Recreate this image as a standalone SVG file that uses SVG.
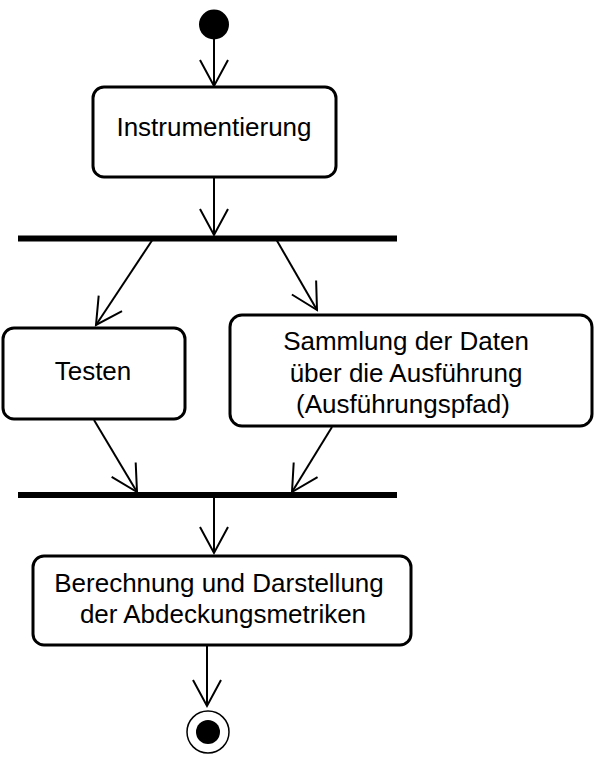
<svg xmlns="http://www.w3.org/2000/svg" width="601" height="762" viewBox="0 0 601 762">
<defs>
<marker id="arr" markerUnits="userSpaceOnUse" markerWidth="40" markerHeight="40" refX="0" refY="0" viewBox="-30 -20 40 40" orient="auto" overflow="visible">
<path d="M-26,-14 L0,0 L-26,14" fill="none" stroke="#000" stroke-width="2"/>
</marker>
</defs>
<style>
.box{fill:#fff;stroke:#000;stroke-width:3}
.bar{stroke:#000;stroke-width:6}
.edge{stroke:#000;stroke-width:2;fill:none;marker-end:url(#arr)}
text{font-family:"Liberation Sans",Arial,sans-serif;font-size:26px;fill:#000;text-anchor:middle}
</style>
<rect width="601" height="762" fill="#fff"/>
<g id="connectors">
<line class="edge" x1="214" y1="39" x2="214" y2="86"/>
<line class="edge" x1="214" y1="178" x2="214" y2="235"/>
<line class="edge" x1="153" y1="239" x2="96" y2="325"/>
<line class="edge" x1="276" y1="239" x2="317" y2="310"/>
<line class="edge" x1="94" y1="420" x2="137" y2="492"/>
<line class="edge" x1="332" y1="427" x2="292" y2="492"/>
<line class="edge" x1="214" y1="498" x2="214" y2="553"/>
<line class="edge" x1="207" y1="645" x2="207" y2="706"/>
</g>
<g id="start"><circle cx="214" cy="24.5" r="15" fill="#000"/></g>
<g id="instrumentierung">
<rect class="box" x="93" y="87" width="243" height="90" rx="11"/>
<text x="214" y="136">Instrumentierung</text>
</g>
<g id="fork"><line class="bar" x1="18" y1="238.5" x2="397" y2="238.5"/></g>
<g id="testen">
<rect class="box" x="3" y="328" width="182" height="91" rx="11"/>
<text x="93" y="380">Testen</text>
</g>
<g id="sammlung">
<rect class="box" x="230" y="315" width="362" height="111" rx="12"/>
<text x="406" y="350">Sammlung der Daten</text>
<text x="406" y="382">über die Ausführung</text>
<text x="403" y="413">(Ausführungspfad)</text>
</g>
<g id="join"><line class="bar" x1="18" y1="495" x2="397" y2="495"/></g>
<g id="berechnung">
<rect class="box" x="33" y="556" width="378" height="89" rx="11"/>
<text x="219" y="592">Berechnung und Darstellung</text>
<text x="223" y="623">der Abdeckungsmetriken</text>
</g>
<g id="end">
<circle cx="208" cy="732" r="21" fill="#fff" stroke="#000" stroke-width="1.5"/>
<circle cx="208" cy="732" r="12" fill="#000"/>
</g>
</svg>
